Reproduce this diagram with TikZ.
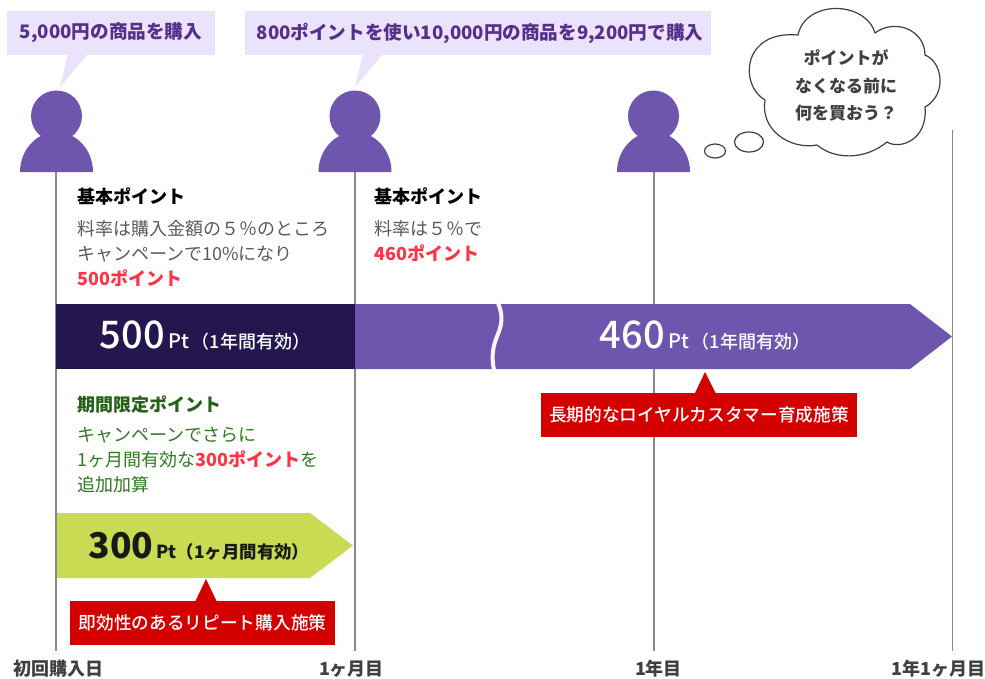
\documentclass[tikz,border=0pt]{standalone}
\usepackage{fontspec}
\setmainfont{Noto Sans CJK JP}
\newfontfamily\medfont{Noto Sans CJK JP Medium}
\usepackage{xcolor}
\definecolor{lilac}{HTML}{EBE2FC}
\definecolor{plumtext}{HTML}{54308A}
\definecolor{personfill}{HTML}{6E55AE}
\definecolor{darkbar}{HTML}{24174F}
\definecolor{limebar}{HTML}{C9DB52}
\definecolor{redbox}{HTML}{D40000}
\definecolor{redtext}{HTML}{FF3344}
\definecolor{greentext}{HTML}{2E7A1E}
\definecolor{greytext}{HTML}{5A5A5A}
\definecolor{axisgrey}{HTML}{8A8A8A}
\newcommand{\personicon}[1]{%
  \fill[personfill] (#1,116) circle (25.5);
  \fill[personfill] (#1-36.5,172) .. controls (#1-36.5,150) and (#1-20,132) .. (#1,132)
    .. controls (#1+20,132) and (#1+36.5,150) .. (#1+36.5,172) -- cycle;
}
\begin{document}
\begin{tikzpicture}[x=1pt,y=-1pt,
    saybox/.style={rectangle, fill=lilac, text=plumtext, minimum height=44pt, font=\fontsize{18.6}{20}\selectfont\bfseries, inner sep=0pt},
    headtext/.style={anchor=west, inner sep=0pt, font=\fontsize{18}{25}\selectfont\bfseries},
    bodytext/.style={anchor=west, inner sep=0pt, align=left, text=greytext, font=\fontsize{18}{25}\selectfont},
    redcall/.style={rectangle, fill=redbox, text=white, minimum height=44pt, inner sep=0pt, font=\fontsize{17.7}{20}\medfont},
    daylabel/.style={inner sep=0pt, text=black!75, font=\fontsize{18}{20}\selectfont\bfseries},
    axisline/.style={draw=axisgrey, line width=1.2pt},
    barlabel/.style={inner sep=0pt, text=white, font=\fontsize{18}{20}\medfont},
  ]
    \useasboundingbox (0,0) rectangle (985,678);

    % time axis
    \node[daylabel] (d1) at (58.5,669) {初回購入日};
    \node[daylabel] (d2) at (351.5,669) {1ヶ月目};
    \node[daylabel] (d3) at (658.5,669) {1年目};
    \node[daylabel] (d4) at (938.5,669) {1年1ヶ月目};
    \coordinate (p1) at (56,172);
    \coordinate (p2) at (355,172);
    \coordinate (p3) at (654,172);
    \coordinate (p4) at (952.5,130);
    \coordinate (e1) at (56,651);
    \coordinate (e2) at (355,651);
    \coordinate (e3) at (654,651);
    \coordinate (e4) at (952.5,651);
    \draw[axisline] (p1) -- (e1);
    \draw[axisline] (p2) -- (e2);
    \draw[axisline] (p3) -- (e3);
    \draw[axisline] (p4) -- (e4);

    \personicon{56.5}
    \personicon{355}
    \personicon{653.5}

    % speech
    \fill[lilac] (68,54) -- (60,87) -- (88,54) -- cycle;
    \fill[lilac] (363,54) -- (355,87) -- (383,54) -- cycle;
    \node[saybox, minimum width=208pt] (say1) at (111,33) {5,000円の商品を購入};
    \node[saybox, minimum width=466pt] (say2) at (478,33) {\hspace{4pt}800ポイントを使い10,000円の商品を9,200円で購入};

    % thought
    \draw[black!75, fill=white, line width=1.2pt] (798,35) .. controls (805,0) and (865,0) .. (875,33)
      .. controls (895,18) and (925,30) .. (925,55)
      .. controls (943,62) and (947,95) .. (925,107)
      .. controls (928,140) and (900,150) .. (887,142)
      .. controls (865,160) and (835,160) .. (817,145)
      .. controls (790,150) and (760,130) .. (765,100)
      .. controls (739,85) and (742,30) .. (798,35) -- cycle;
    \draw[black!75, line width=1.2pt] (715,151) ellipse (10.5 and 7);
    \draw[black!75, line width=1.2pt] (749,142) ellipse (14.5 and 10);
    \node[inner sep=0pt, align=center, text=black!75, font=\fontsize{17}{27.5}\selectfont\bfseries] (think) at (846,85.5) {ポイントが\\なくなる前に\\何を買おう？};

    % first purchase
    \node[headtext] (base1) at (77,196) {基本ポイント};
    \node[bodytext] (rate1) at (77,253.5) {料率は購入金額の５％のところ\\キャンペーンで10\%になり\\\textcolor{redtext}{\bfseries 500ポイント}};
    \node[headtext] (base2) at (374,196) {基本ポイント};
    \node[bodytext] (rate2) at (374,241) {料率は５％で\\\textcolor{redtext}{\bfseries 460ポイント}};

    % long term bars
    \fill[darkbar] (56,304) rectangle (355,369);
    \fill[personfill] (355,304) -- (910,304) -- (952,336.5) -- (910,369) -- (355,369) -- cycle;
    \draw[white!95!personfill, line width=4pt] (498,303) .. controls (506,322) and (498,332) .. (495,342) .. controls (492,352) and (492,360) .. (494,370);
    \node[barlabel] (pt500) at (205,336) {{\fontsize{38}{38}\selectfont 500}{\fontsize{20}{20}\selectfont\,Pt}\hspace{3pt}（1年間有効）};
    \node[barlabel] (pt460) at (705,336) {{\fontsize{38}{38}\selectfont 460}{\fontsize{20}{20}\selectfont\,Pt}\hspace{3pt}（1年間有効）};

    % campaign points
    \node[headtext, text=greentext!80!black] (limit) at (77,405) {期間限定ポイント};
    \node[bodytext, text=greentext] (limitbody) at (77,460) {キャンペーンでさらに\\1ヶ月間有効な\textcolor{redtext}{\bfseries 300ポイント}を\\追加加算};
    \fill[limebar] (57,513) -- (310,513) -- (353,545.5) -- (310,578) -- (57,578) -- cycle;
    \node[barlabel, text=black!90] (pt300) at (199,546.5) {{\fontsize{35.5}{38}\selectfont\bfseries 300}{\fontsize{18}{20}\selectfont\bfseries\,Pt}{\fontsize{17.4}{20}\selectfont\bfseries （1ヶ月間有効）}};

    % callouts
    \fill[redbox] (195,602) -- (206,579) -- (217,602) -- cycle;
    \node[redcall, minimum width=265pt] (quick) at (202.5,623) {即効性のあるリピート購入施策};
    \fill[redbox] (695,393) -- (705,372) -- (715.5,393) -- cycle;
    \node[redcall, minimum width=316pt] (loyal) at (699,414.5) {長期的なロイヤルカスタマー育成施策};
\end{tikzpicture}
\end{document}
